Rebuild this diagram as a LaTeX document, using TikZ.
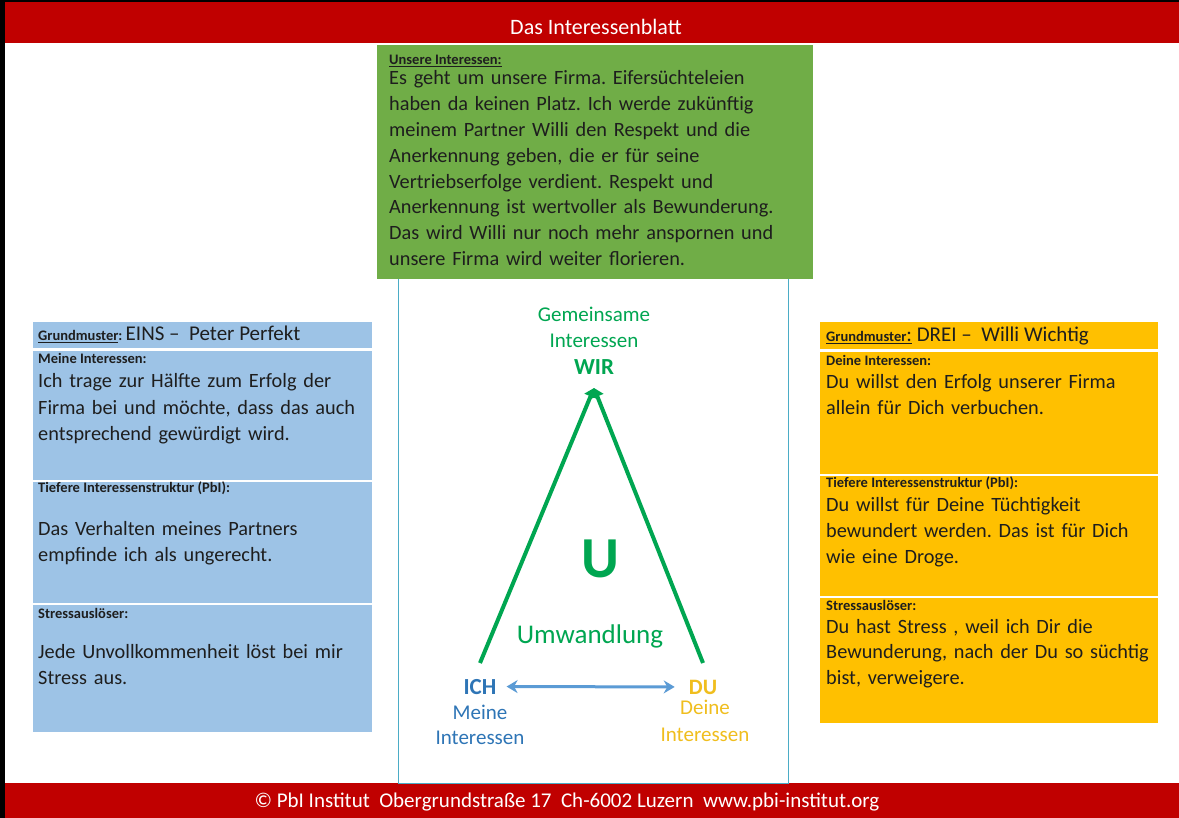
\documentclass[tikz,border=0pt]{standalone}
\usepackage{fontspec}
\setmainfont{Carlito}
\usepackage{tikz}
\usetikzlibrary{arrows.meta,positioning}
\frenchspacing

\definecolor{pbired}{HTML}{C00000}
\definecolor{wirbox}{HTML}{70AD47}
\definecolor{ichbox}{HTML}{9DC3E6}
\definecolor{dubox}{HTML}{FFC000}
\definecolor{wirgreen}{HTML}{00A651}
\definecolor{framecyan}{HTML}{4BACC6}
\definecolor{ichblue}{HTML}{2E75B6}
\definecolor{ducol}{HTML}{F0BE1E}
\definecolor{pairblue}{HTML}{5B9BD5}
\definecolor{ink}{HTML}{1E1E1E}

\newcommand{\headfont}{\fontsize{14.5}{16}\selectfont\bfseries}
\newcommand{\bodyfont}{\fontsize{20.3}{26.5}\selectfont}
\newcommand{\bigfont}{\mdseries\fontsize{21}{23}\selectfont}

\begin{document}
\begin{tikzpicture}[x=1pt,y=-1pt,
  lbl/.style={inner sep=0pt,anchor=base west,font=\headfont,text=ink},
  txt/.style={inner sep=0pt,anchor=base west,align=left,text width=335pt,font=\bodyfont,text=ink},
  mid/.style={inner sep=0pt,anchor=base,align=center,text width=200pt}]

\useasboundingbox (0,0) rectangle (1179,818);
\fill[white] (0,0) rectangle (1179,818);
\fill[black] (0,0) rectangle (5,818);
\fill[black] (0,0) rectangle (1179,2);

\fill[pbired] (5,2) rectangle (1179,43);
\node (title) at (596,35) [anchor=base,inner sep=0pt,text=white,font=\fontsize{22}{24}\selectfont] {Das Interessenblatt};

\fill[pbired] (5,783) rectangle (1179,818);
\node (footer) at (567,807) [anchor=base,inner sep=0pt,text=white,font=\fontsize{21}{24}\selectfont] {© PbI Institut\ \ Obergrundstraße 17\ \ Ch-6002 Luzern\ \ www.pbi-institut.org};

\draw[framecyan,line width=0.8pt] (398,268) rectangle (788,783);

\fill[wirbox] (377,45) rectangle (813,279);
\node (unsere) [lbl] at (389,65) {\underline{Unsere Interessen:}};
\node (unseretext) [txt,text width=420pt,font=\fontsize{20.3}{25.8}\selectfont] at (389,85) {Es geht um unsere Firma. Eifersüchteleien\\
haben da keinen Platz. Ich werde zukünftig\\
meinem Partner Willi den Respekt und die\\
Anerkennung geben, die er für seine\\
Vertriebserfolge verdient. Respekt und\\
Anerkennung ist wertvoller als Bewunderung.\\
Das wird Willi nur noch mehr anspornen und\\
unsere Firma wird weiter florieren.};

\fill[ichbox] (33,322) rectangle (372,348);
\fill[ichbox] (33,351) rectangle (372,480);
\fill[ichbox] (33,482) rectangle (372,603);
\fill[ichbox] (33,605) rectangle (372,732);
\node (eins) [lbl] at (38,341) {\underline{Grundmuster}: {\bigfont EINS –\ \ Peter Perfekt}};
\node (meine) [lbl] at (38,364) {Meine Interessen:};
\node (meinetext) [txt] at (38,388) {Ich trage zur Hälfte zum Erfolg der\\
Firma bei und möchte, dass das auch\\
entsprechend gewürdigt wird.};
\node (tiefl) [lbl] at (38,492) {Tiefere Interessenstruktur (PbI):};
\node (tiefltext) [txt] at (38,535) {Das Verhalten meines Partners\\
empfinde ich als ungerecht.};
\node (stressl) [lbl] at (38,618) {Stressauslöser:};
\node (stressltext) [txt] at (38,658) {Jede Unvollkommenheit löst bei mir\\
Stress aus.};

\fill[dubox] (820,322) rectangle (1158,349);
\fill[dubox] (820,352) rectangle (1158,474);
\fill[dubox] (820,476) rectangle (1158,596);
\fill[dubox] (820,598) rectangle (1158,723);
\node (drei) [lbl] at (826,342) {\underline{Grundmuster{\bigfont:}}{\bigfont\ DREI –\ \ Willi Wichtig}};
\node (deine) [lbl] at (826,366) {Deine Interessen:};
\node (deinetext) [txt,font=\fontsize{20.3}{26}\selectfont] at (826,389) {Du willst den Erfolg unserer Firma\\
allein für Dich verbuchen.};
\node (tiefr) [lbl] at (826,487) {Tiefere Interessenstruktur (PbI):};
\node (tiefrtext) [txt,font=\fontsize{20.3}{26}\selectfont] at (826,511) {Du willst für Deine Tüchtigkeit\\
bewundert werden. Das ist für Dich\\
wie eine Droge.};
\node (stressr) [lbl] at (826,610) {Stressauslöser:};
\node (stressrtext) [txt,font=\fontsize{20.3}{25.5}\selectfont] at (826,633) {Du hast Stress , weil ich Dir die\\
Bewunderung, nach der Du so süchtig\\
bist, verweigere.};

\node (gemeinsam) [mid,text=wirgreen,font=\fontsize{21}{26}\selectfont] at (594,322) {Gemeinsame\\Interessen};
\node (wir) [mid,text=wirgreen,font=\fontsize{23}{26}\selectfont\bfseries] at (594,375) {WIR};
\node (u) [mid,text=wirgreen,font=\fontsize{58}{60}\selectfont\bfseries] at (600,577) {U};
\node (umwandlung) [mid,text=wirgreen,font=\fontsize{27}{30}\selectfont] at (590,643) {Umwandlung};

\node (ich) [inner sep=0pt,anchor=base,text=ichblue,font=\fontsize{23}{26}\selectfont\bfseries] at (480,694) {ICH};
\node (ichsub) [mid,text=ichblue,font=\fontsize{21}{25}\selectfont] at (480,719) {Meine\\Interessen};
\node (du) [inner sep=0pt,anchor=base,text=ducol,font=\fontsize{22}{26}\selectfont\bfseries] at (703,694) {DU};
\node (dusub) [mid,text=ducol,font=\fontsize{21}{27}\selectfont] at (705,714) {Deine\\Interessen};

\coordinate (tip) at (594,388);
\coordinate (ichfoot) at (480,663);
\coordinate (dufoot) at (703,663);
\draw[wirgreen,line width=4pt,-{Triangle[length=9pt,width=13pt]}] (ichfoot) -- (tip);
\draw[wirgreen,line width=4pt,-{Triangle[length=9pt,width=13pt]}] (dufoot) -- (tip);

\draw[pairblue,line width=3pt,{Stealth[length=11pt,width=13pt]}-{Stealth[length=11pt,width=13pt]},shorten <=10pt,shorten >=14pt] (ich.east) -- (du.west);

\end{tikzpicture}
\end{document}
